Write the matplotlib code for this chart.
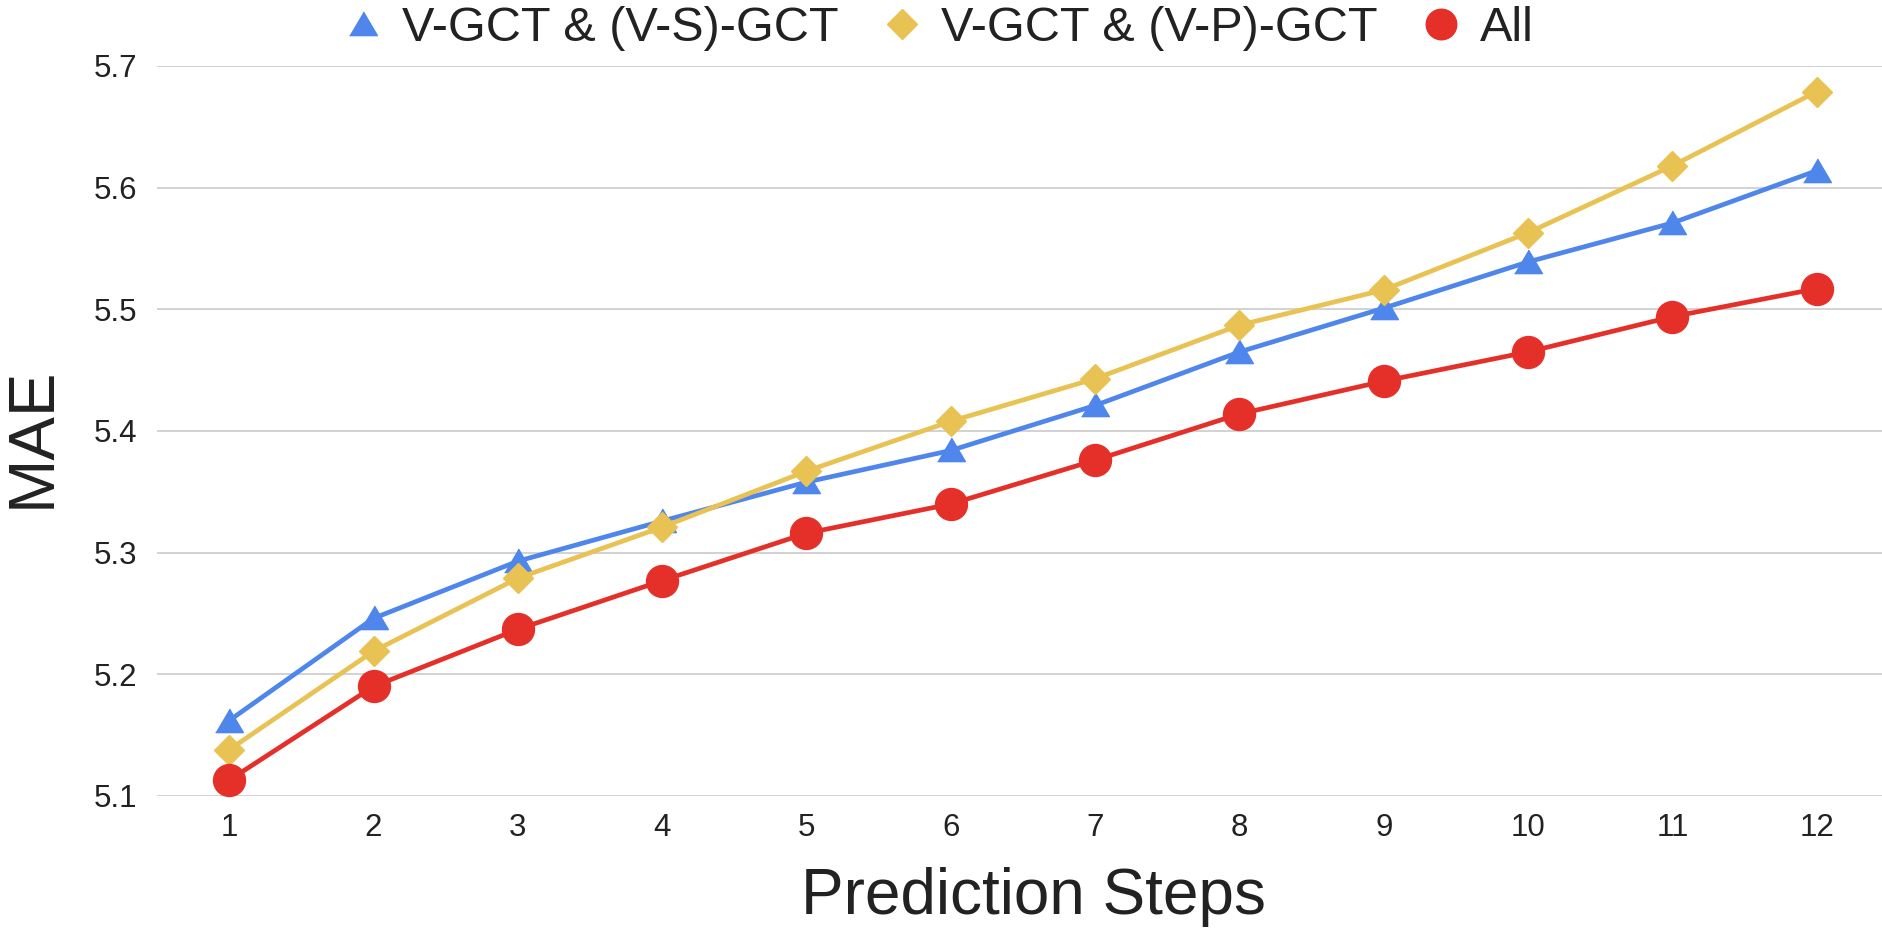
import matplotlib
matplotlib.use("Agg")
import matplotlib.pyplot as plt
from matplotlib.lines import Line2D

steps = [1, 2, 3, 4, 5, 6, 7, 8, 9, 10, 11, 12]
vs_gct = [5.162, 5.246, 5.293, 5.326, 5.358, 5.384, 5.421, 5.465, 5.501, 5.539, 5.571, 5.614]
vp_gct = [5.138, 5.219, 5.279, 5.321, 5.367, 5.408, 5.443, 5.487, 5.516, 5.563, 5.618, 5.679]
all_mae = [5.113, 5.190, 5.237, 5.277, 5.316, 5.340, 5.376, 5.414, 5.441, 5.465, 5.494, 5.517]
names = ["V-GCT & (V-S)-GCT", "V-GCT & (V-P)-GCT", "All"]

blue = "#4f86ec"
yellow = "#e8c253"
red = "#e5302a"
txt = "#222222"

# flatter triangle, like the sheets one
tri = [(-1, -0.8), (1, -0.8), (0, 0.9)]

plt.rcParams["font.family"] = ["Liberation Sans", "DejaVu Sans"]

fig = plt.figure(figsize=(18.82, 9.34), dpi=100)
ax = fig.add_axes([157 / 1882, 1 - 796 / 934, 1732 / 1882, 730 / 934])

ax.plot(steps, vs_gct, color=blue, lw=3.4, marker=tri, ms=20, clip_on=False, zorder=3)
ax.plot(steps, vp_gct, color=yellow, lw=3.4, marker="D", ms=15, clip_on=False, zorder=4)
ax.plot(steps, all_mae, color=red, lw=3.4, marker="o", ms=23, clip_on=False, zorder=5)

ax.set_xlim(0.5, 12.5)
ax.set_ylim(5.1, 5.7)
ax.set_xticks(steps)
ax.set_yticks([5.1, 5.2, 5.3, 5.4, 5.5, 5.6, 5.7])
ax.set_yticklabels(["5.1", "5.2", "5.3", "5.4", "5.5", "5.6", "5.7"])
ax.tick_params(length=0, labelsize=22.5, colors=txt)
ax.tick_params(axis="y", pad=14)
ax.tick_params(axis="x", pad=12)
ax.grid(axis="y", color="#d2d2d2", lw=1.4)
ax.set_axisbelow(True)
for s in ax.spines.values():
    s.set_visible(False)

ax.set_ylabel("MAE", fontsize=47, color=txt, va="center")
ax.yaxis.set_label_coords(-0.072, 0.492)
ax.set_xlabel("Prediction Steps", fontsize=46, color=txt, va="center")
ax.xaxis.set_label_coords(0.506, -0.138)

handles = [
    Line2D([], [], ls="none", marker=tri, ms=20, color=blue),
    Line2D([], [], ls="none", marker="D", ms=15, color=yellow),
    Line2D([], [], ls="none", marker="o", ms=22, color=red),
]
leg = fig.legend(handles, names, loc="center", bbox_to_anchor=(0.5, 0.97), ncol=3,
                 frameon=False, fontsize=35, handlelength=0.6, handletextpad=0.5,
                 columnspacing=1.0, borderpad=0)
for t in leg.get_texts():
    t.set_color(txt)

fig.savefig("out.png", dpi=100)
